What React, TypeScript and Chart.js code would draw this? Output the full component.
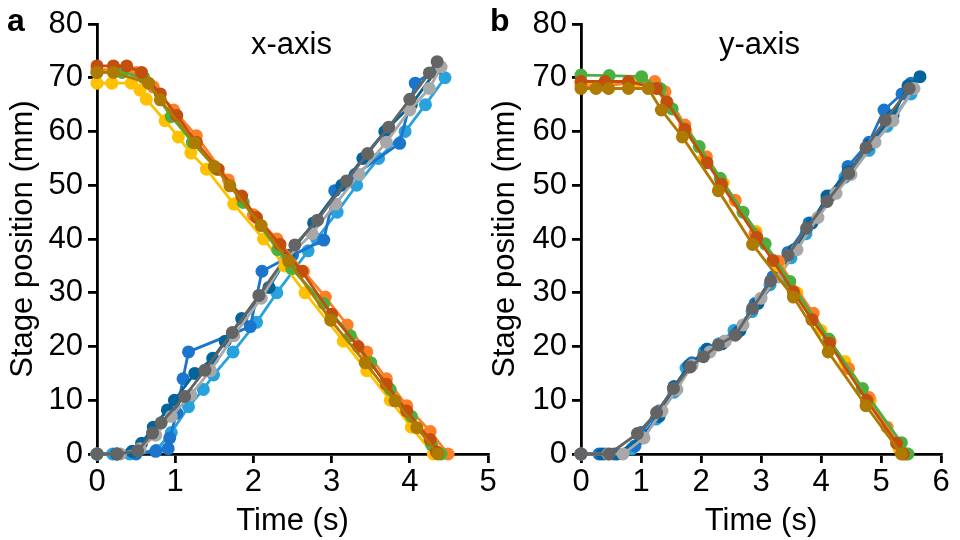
import React, { useEffect, useRef } from "react";
import { Chart, registerables } from "chart.js";

Chart.register(...registerables);

type P = [number, number];

// ---------- Panel a: x-axis ----------
const xTicksA = [0, 1, 2, 3, 4, 5];
const yTicks = [0, 10, 20, 30, 40, 50, 60, 70, 80];

const aYellow: P[] = [[0, 69], [0.19, 69], [0.44, 69], [0.55, 67.7], [0.63, 66], [0.87, 62], [1.04, 59], [1.2, 56], [1.4, 53], [1.75, 46.5], [2.13, 40], [2.4, 35], [2.66, 30], [3.15, 21], [3.45, 15.5], [3.75, 10], [4.02, 5], [4.3, 0]];
const aOrange: P[] = [[0, 71.5], [0.25, 71.5], [0.5, 71], [0.72, 68.3], [0.98, 64], [1.27, 59.2], [1.68, 51], [2.0, 44.5], [2.3, 40], [2.64, 34], [2.92, 29.2], [3.2, 24], [3.45, 19], [3.7, 14], [3.96, 9], [4.26, 4.2], [4.49, 0]];
const aGreen: P[] = [[0, 71], [0.32, 71], [0.6, 70], [0.95, 62.8], [1.22, 58], [1.53, 53], [1.87, 46.8], [2.31, 38], [2.49, 34.5], [2.9, 28], [3.24, 22], [3.5, 17], [3.75, 12], [4.02, 7], [4.28, 1.7], [4.4, 0]];
const aDarkOrange: P[] = [[0, 72.2], [0.21, 72.2], [0.38, 72.2], [0.57, 71], [0.81, 67], [1.02, 63], [1.27, 58], [1.55, 53], [1.85, 48], [2.04, 44], [2.34, 39], [2.62, 34], [3.0, 26], [3.34, 20], [3.7, 13], [3.96, 8], [4.26, 2.7], [4.34, 0.4]];
const aOlive: P[] = [[0, 71], [0.21, 71], [0.66, 69], [0.81, 65.9], [1.25, 57.9], [1.5, 53.5], [1.7, 49.9], [2.1, 42.5], [2.45, 35.9], [2.99, 24.9], [3.43, 17], [3.81, 9.9], [4.09, 4.9], [4.36, 0]];

const aBlue: P[] = [[0, 0], [0.25, 0], [0.5, 0], [0.75, 0.5], [0.91, 1], [0.93, 3], [1.02, 7.6], [1.1, 14], [1.17, 19], [1.96, 23.7], [2.11, 34], [2.5, 37], [2.9, 39.8], [3.04, 49], [3.3, 52], [3.87, 57.8], [4.07, 69], [4.38, 72]];
const aDarkBlue: P[] = [[0, 0], [0.25, 0], [0.45, 0.5], [0.57, 2], [0.72, 5], [0.9, 8.2], [0.99, 10], [1.25, 15], [1.48, 17.8], [1.64, 21], [1.85, 25.2], [2.2, 31], [2.45, 37], [2.77, 43], [3.13, 50], [3.4, 55], [3.68, 60], [4.02, 65], [4.36, 71.8]];
const aLightBlue: P[] = [[0, 0], [0.2, 0], [0.42, 0], [0.76, 0.7], [0.95, 4], [1.17, 8.8], [1.36, 12], [1.49, 14.7], [1.74, 19], [2.04, 24.5], [2.3, 30], [2.7, 37.8], [2.81, 40], [3.07, 45], [3.32, 50], [3.6, 55], [3.94, 60], [4.2, 65], [4.45, 70]];
const aGray: P[] = [[0, 0], [0.3, 0], [0.55, 1], [0.75, 3.5], [0.95, 7], [1.2, 11], [1.45, 15.5], [1.75, 22], [2.1, 29], [2.4, 36], [2.75, 41], [3.05, 46.5], [3.35, 52], [3.7, 58], [4.0, 64], [4.25, 68], [4.4, 72]];
const aDarkGray: P[] = [[0, 0], [0.26, 0], [0.52, 0.6], [0.71, 3.9], [0.82, 5.8], [1.12, 10.7], [1.38, 15.6], [1.73, 22.6], [2.07, 29.5], [2.53, 38.9], [2.82, 43.5], [3.19, 50.8], [3.46, 55.9], [3.73, 60.8], [4.0, 66], [4.25, 70.9], [4.35, 73]];

// ---------- Panel b: y-axis ----------
const xTicksB = [0, 1, 2, 3, 4, 5, 6];

const bYellow: P[] = [[0, 69], [0.45, 69], [0.9, 69], [1.2, 68.5], [1.45, 65], [1.75, 60], [2.05, 55], [2.37, 50.4], [2.92, 41.4], [3.3, 35], [3.6, 30], [4.0, 23], [4.4, 17.2], [4.82, 10], [5.3, 1], [5.4, 0]];
const bOrange: P[] = [[0, 68.5], [0.4, 68.5], [0.8, 69], [1.23, 69.3], [1.4, 67.4], [1.73, 61.2], [2.09, 55.3], [2.57, 47.2], [2.9, 41], [3.29, 35.8], [3.87, 26.2], [4.15, 21], [4.46, 15.9], [4.8, 10.5], [5.1, 5], [5.43, 0]];
const bGreen: P[] = [[0, 70.5], [0.47, 70.4], [1.01, 70.2], [1.32, 68], [1.52, 64.2], [1.97, 57.2], [2.32, 51.3], [2.7, 45], [3.07, 39.1], [3.48, 32.1], [4.13, 21.4], [4.69, 12.2], [5.34, 2.1], [5.45, 0]];
const bDarkOrange: P[] = [[0, 69.3], [0.4, 69.3], [0.79, 69.3], [1.26, 68], [1.43, 65.5], [1.73, 60.4], [2.1, 54.2], [2.34, 50.2], [2.93, 40.3], [3.2, 36], [3.54, 30.2], [3.85, 25], [4.14, 20.6], [4.76, 10], [5.26, 2], [5.37, 0]];
const bOlive: P[] = [[0, 68], [0.25, 68], [0.46, 68], [0.79, 68], [1.12, 68], [1.34, 64], [1.69, 59], [2.29, 49], [2.86, 39], [3.54, 29.2], [4.12, 19], [4.75, 9], [5.34, 0]];

const bBlue: P[] = [[0, 0], [0.3, 0], [0.55, 0], [0.9, 1.5], [1.0, 4], [1.3, 8], [1.55, 12.5], [1.85, 17], [2.1, 19.5], [2.4, 21], [2.6, 22.5], [2.9, 28], [3.2, 33], [3.45, 37.5], [3.8, 43], [4.15, 48], [4.45, 53.5], [4.8, 58], [5.05, 64], [5.35, 67], [5.5, 69]];
const bDarkBlue: P[] = [[0, 0], [0.35, 0], [0.6, 0], [1.0, 3], [1.3, 7], [1.55, 12.5], [1.8, 16.5], [2.1, 19.5], [2.35, 20.5], [2.65, 23], [2.95, 28], [3.3, 33], [3.55, 38], [3.85, 43], [4.1, 48], [4.45, 52.5], [4.8, 57.5], [5.2, 63], [5.45, 68.5], [5.65, 70.2]];
const bLightBlue: P[] = [[0, 0], [0.4, 0], [0.85, 1], [1.0, 3], [1.25, 6.5], [1.55, 11.5], [1.75, 16], [2.05, 19], [2.3, 20.5], [2.55, 23], [2.85, 26.5], [3.15, 31.5], [3.5, 36.5], [3.75, 41], [4.1, 47.5], [4.4, 51.5], [4.8, 56.5], [5.1, 61], [5.5, 67]];
const bGray: P[] = [[0, 0], [0.45, 0], [0.7, 0], [1.05, 3], [1.35, 8], [1.6, 12], [1.85, 16.5], [2.15, 19], [2.4, 21], [2.7, 24], [3.0, 29], [3.3, 33], [3.6, 38], [3.95, 44], [4.25, 48.5], [4.5, 52], [4.9, 58], [5.2, 62], [5.55, 68]];
const bDarkGray: P[] = [[0, 0], [0.47, 0], [0.94, 3.8], [1.26, 7.7], [1.54, 12.2], [1.82, 16.2], [2.04, 18.1], [2.29, 20.3], [2.57, 22.1], [2.86, 27.1], [3.16, 32.2], [3.45, 37], [3.76, 42], [4.1, 47], [4.46, 52.2], [4.75, 57], [5.07, 62.1], [5.47, 68]];

const COLORS = {
  yellow: "#FFC000",
  orange: "#FF7F27",
  green: "#4CB040",
  darkOrange: "#C24F0E",
  olive: "#AE7A02",
  blue: "#1B75CC",
  darkBlue: "#03649C",
  lightBlue: "#27A2DC",
  gray: "#A8A8A8",
  darkGray: "#646464",
};

const FONT = "'Liberation Sans', Arial, Helvetica, sans-serif";

function ds(data: P[], color: string) {
  return {
    data: data.map(([x, y]) => ({ x, y })),
    borderColor: color,
    backgroundColor: color,
    pointBackgroundColor: color,
    pointBorderColor: color,
    borderWidth: 2.8,
    pointRadius: 6.5,
    pointBorderWidth: 0,
    showLine: true,
    tension: 0,
    clip: false as const,
  };
}

function makeOptions(xMax: number, xTicks: number[], yWidth: number, padRight: number, titlePad: number) {
  const axisColor = "#000";
  return {
    responsive: false,
    animation: false as const,
    layout: { padding: { left: 0, top: 24, right: padRight, bottom: 0 } },
    plugins: { legend: { display: false }, tooltip: { enabled: false } },
    scales: {
      x: {
        type: "linear" as const,
        min: 0,
        max: xMax,
        afterFit: (s: any) => { s.height = 86; },
        afterBuildTicks: (s: any) => { s.ticks = xTicks.map((v) => ({ value: v })); },
        ticks: { color: "#000", font: { family: FONT, size: 31 }, padding: 1, maxRotation: 0 },
        grid: { display: true, drawOnChartArea: false, drawTicks: true, tickLength: 9, color: axisColor, lineWidth: 2.8 },
        border: { display: true, color: axisColor, width: 2.8 },
        title: { display: true, text: "Time (s)", color: "#000", font: { family: FONT, size: 31 }, padding: { top: 0, bottom: 0 } },
      },
      y: {
        type: "linear" as const,
        min: 0,
        max: 80,
        afterFit: (s: any) => { s.width = yWidth; },
        afterBuildTicks: (s: any) => { s.ticks = yTicks.map((v) => ({ value: v })); },
        ticks: { color: "#000", font: { family: FONT, size: 31 }, padding: 5 },
        grid: { display: true, drawOnChartArea: false, drawTicks: true, tickLength: 9, color: axisColor, lineWidth: 2.8 },
        border: { display: true, color: axisColor, width: 2.8 },
        title: { display: true, text: "Stage position (mm)", color: "#000", font: { family: FONT, size: 31 }, padding: { top: titlePad, bottom: 0 } },
      },
    },
  };
}

function Panel(props: { left: number; width: number; datasets: any[]; xMax: number; xTicks: number[]; yWidth: number; padRight: number; titlePad: number }) {
  const ref = useRef<HTMLCanvasElement | null>(null);
  useEffect(() => {
    if (!ref.current) return;
    const chart = new Chart(ref.current, {
      type: "scatter",
      data: { datasets: props.datasets },
      options: makeOptions(props.xMax, props.xTicks, props.yWidth, props.padRight, props.titlePad) as any,
    });
    return () => chart.destroy();
  }, []);
  return (
    <canvas
      ref={ref}
      width={props.width}
      height={540}
      style={{ position: "absolute", left: props.left, top: 0, width: props.width, height: 540 }}
    />
  );
}

export default function App() {
  // first dataset is drawn on top
  const dsA = [
    ds(aOlive, COLORS.olive),
    ds(aDarkOrange, COLORS.darkOrange),
    ds(aGreen, COLORS.green),
    ds(aOrange, COLORS.orange),
    ds(aYellow, COLORS.yellow),
    ds(aDarkGray, COLORS.darkGray),
    ds(aGray, COLORS.gray),
    ds(aDarkBlue, COLORS.darkBlue),
    ds(aBlue, COLORS.blue),
    ds(aLightBlue, COLORS.lightBlue),
  ];
  const dsB = [
    ds(bOlive, COLORS.olive),
    ds(bDarkOrange, COLORS.darkOrange),
    ds(bGreen, COLORS.green),
    ds(bOrange, COLORS.orange),
    ds(bYellow, COLORS.yellow),
    ds(bDarkGray, COLORS.darkGray),
    ds(bGray, COLORS.gray),
    ds(bDarkBlue, COLORS.darkBlue),
    ds(bBlue, COLORS.blue),
    ds(bLightBlue, COLORS.lightBlue),
  ];
  const label: React.CSSProperties = { position: "absolute", fontFamily: FONT, color: "#000", lineHeight: 1, whiteSpace: "nowrap" };
  return (
    <div style={{ position: "absolute", left: 0, top: 0, width: 960, height: 540, background: "#fff", overflow: "hidden" }}>
      <Panel left={0} width={500} datasets={dsA} xMax={5} xTicks={xTicksA} yWidth={97} padRight={12} titlePad={5} />
      <Panel left={480} width={475} datasets={dsB} xMax={6} xTicks={xTicksB} yWidth={101} padRight={14} titlePad={7} />
      <div style={{ ...label, left: 7, top: 4, fontSize: 32, fontWeight: "bold" }}>a</div>
      <div style={{ ...label, left: 490, top: 4, fontSize: 32, fontWeight: "bold" }}>b</div>
      <div style={{ ...label, left: 251, top: 28, fontSize: 31 }}>x-axis</div>
      <div style={{ ...label, left: 719, top: 28, fontSize: 31 }}>y-axis</div>
    </div>
  );
}
